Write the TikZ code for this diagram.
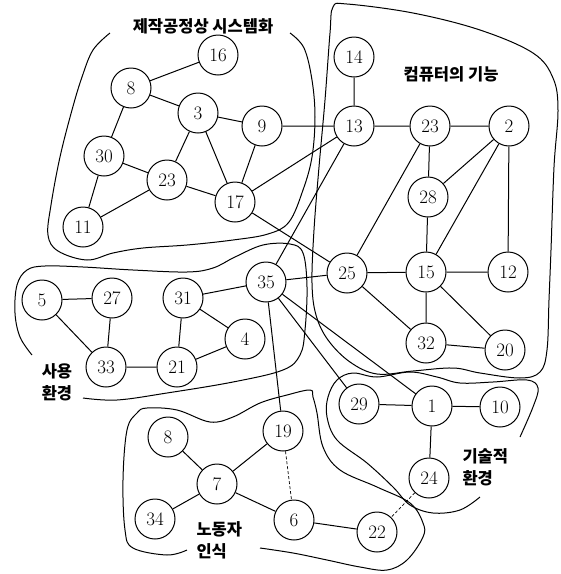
\documentclass[tikz,border=0pt]{standalone}
\usepackage{fontspec}
\newfontfamily\kor{Noto Sans CJK KR}

\begin{document}
\begin{tikzpicture}[x=1pt,y=-1pt,line width=1pt,
vertex/.style={circle,draw,minimum size=40pt,inner sep=0pt,font=\fontsize{19}{19}\selectfont},
label/.style={font=\kor\bfseries\fontsize{16.5}{22}\selectfont,inner sep=0pt},
dotted edge/.style={densely dashed,line width=0.7pt}]

\useasboundingbox (0,0) rectangle (561,574);

        % group: manufacturing systems
        \node [vertex] (N16) at (218,55) {16};
        \node [vertex] (N8a) at (131,88) {8};
        \node [vertex] (N3) at (198,113) {3};
        \node [vertex] (N9) at (262,126) {9};
        \node [vertex] (N30) at (104,156) {30};
        \node [vertex] (N23a) at (167,180) {23};
        \node [vertex] (N17) at (235,202) {17};
        \node [vertex] (N11) at (83,227) {11};

        % group: computer functions
        \node [vertex] (N14) at (354,57) {14};
        \node [vertex] (N13) at (354,126) {13};
        \node [vertex] (N23b) at (430,126) {23};
        \node [vertex] (N2) at (509,126) {2};
        \node [vertex] (N28) at (428,197) {28};
        \node [vertex] (N25) at (347,273) {25};
        \node [vertex] (N15) at (426,272) {15};
        \node [vertex] (N12) at (508,272) {12};
        \node [vertex] (N32) at (426,343) {32};
        \node [vertex] (N20) at (505,350) {20};

        % group: use environment
        \node [vertex] (N5) at (42,300) {5};
        \node [vertex] (N27) at (112,298) {27};
        \node [vertex] (N31) at (183,298) {31};
        \node [vertex] (N35) at (266,282) {35};
        \node [vertex] (N4) at (245,339) {4};
        \node [vertex] (N33) at (106,367) {33};
        \node [vertex] (N21) at (177,367) {21};

        % group: technical environment
        \node [vertex] (N29) at (359,404) {29};
        \node [vertex] (N1) at (432,406) {1};
        \node [vertex] (N10) at (500,407) {10};
        \node [vertex] (N24) at (429,478) {24};

        % group: worker perception
        \node [vertex] (N19) at (283,431) {19};
        \node [vertex] (N8b) at (168,437) {8};
        \node [vertex] (N7) at (217,484) {7};
        \node [vertex] (N34) at (155,519) {34};
        \node [vertex] (N6) at (294,520) {6};
        \node [vertex] (N22) at (377,532) {22};

        % labels
        \node [label] (T1) at (203,26) {제작공정상 시스템화};
        \node [label] (T2) at (451,74) {컴퓨터의 기능};
        \node [label, align=center] (T3) at (57,382) {사용\\환경};
        \node [label, align=left, anchor=west] (T4) at (196,540) {노동자\\인식};
        \node [label, align=left, anchor=west] (T5) at (462,467) {기술적\\환경};

        % edges
        \draw (N8a) -- (N16) (N8a) -- (N3) (N8a) -- (N30) (N3) -- (N9);
        \draw (N3) -- (N23a) (N3) -- (N17) (N9) -- (N17) (N30) -- (N23a);
        \draw (N30) -- (N11) (N23a) -- (N11) (N23a) -- (N17);
        \draw (N9) -- (N13) (N17) -- (N13) (N17) -- (N25) (N14) -- (N13);
        \draw (N13) -- (N23b) (N13) -- (N35) (N23b) -- (N2) (N23b) -- (N28);
        \draw (N23b) -- (N25) (N2) -- (N28) (N2) -- (N15) (N2) -- (N12);
        \draw (N28) -- (N15) (N25) -- (N15) (N25) -- (N35) (N25) -- (N32);
        \draw (N15) -- (N12) (N15) -- (N32) (N15) -- (N20) (N32) -- (N20);
        \draw (N35) -- (N31) (N31) -- (N4) (N31) -- (N21) (N4) -- (N21);
        \draw (N33) -- (N21) (N5) -- (N27) (N5) -- (N33) (N27) -- (N33);
        \draw (N35) -- (N19) (N35) -- (N29) (N35) -- (N1);
        \draw (N29) -- (N1) (N1) -- (N10) (N1) -- (N24);
        \draw (N19) -- (N7) (N8b) -- (N7) (N7) -- (N34) (N7) -- (N6) (N6) -- (N22);
        \draw [dotted edge] (N19) -- (N6) (N24) -- (N22);

        % regions
        \draw plot [smooth, tension=0.6] coordinates {(110,33) (93,50) (82,77) (72,110) (60,157) (51,205) (48,235) (58,251) (87,260) (113,253) (143,248) (187,245) (233,240) (268,234) (289,222) (303,190) (312,157) (315,117) (312,80) (304,48) (290,33)};
        \draw plot [smooth, tension=0.6] coordinates {(32,355) (20,337) (15,313) (17,285) (27,270) (45,266) (83,267) (133,270) (187,272) (213,268) (235,257) (263,245) (290,244) (303,253) (307,287) (305,330) (300,355) (283,370) (233,382) (167,393) (117,400) (83,398)};
        \draw plot [smooth cycle, tension=0.6] coordinates {(333,7) (330,33) (325,100) (319,167) (314,230) (312,283) (316,315) (328,340) (350,362) (377,374) (413,371) (453,368) (480,373) (520,378) (540,372) (547,350) (549,300) (551,250) (554,167) (558,110) (553,78) (533,53) (480,30) (413,13) (347,4)};
        \draw plot [smooth, tension=0.6] coordinates {(520,437) (533,407) (538,388) (527,380) (493,382) (460,383) (437,377) (410,372) (377,377) (353,373) (337,380) (328,397) (327,417) (337,440) (367,463) (393,487) (410,505) (433,513) (460,510) (480,497)};
        \draw plot [smooth, tension=0.6] coordinates {(187,550) (167,555) (133,548) (125,530) (123,480) (127,430) (137,413) (147,408) (177,410) (210,422) (233,417) (260,403) (287,395) (310,390) (313,397) (317,413) (323,447) (340,470) (377,487) (410,503) (423,523) (423,537) (407,560) (387,570) (360,567) (327,560) (293,553) (260,548)};
    \end{tikzpicture}
\end{document}
